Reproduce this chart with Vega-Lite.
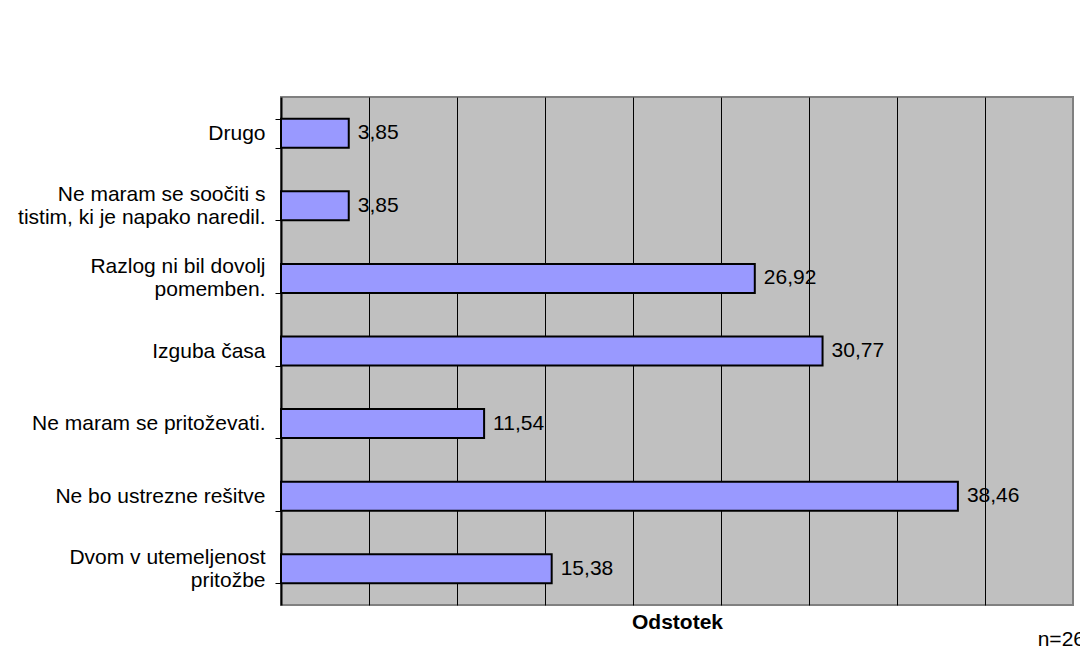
{
  "$schema": "https://vega.github.io/schema/vega-lite/v6.json",
  "width": 792,
  "height": 508,
  "autosize": "none",
  "padding": {"left": 281, "top": 97, "right": 7, "bottom": 57},
  "background": "white",
  "config": {
    "font": "Liberation Sans",
    "locale": {
      "number": {"decimal": ",", "thousands": ".", "grouping": [3], "currency": ["", " €"]}
    },
    "view": {"fill": "#C0C0C0", "stroke": "#808080", "strokeWidth": 2}
  },
  "title": {
    "text": "n=26",
    "orient": "bottom",
    "anchor": "end",
    "font": "Liberation Sans",
    "fontSize": 21,
    "fontWeight": "normal",
    "color": "black",
    "dx": 12,
    "offset": -3
  },
  "data": {
    "values": [
      {"razlog": "Drugo", "odstotek": 3.85},
      {"razlog": "Ne maram se soočiti s\ntistim, ki je napako naredil.", "odstotek": 3.85},
      {"razlog": "Razlog ni bil dovolj\npomemben.", "odstotek": 26.92},
      {"razlog": "Izguba časa", "odstotek": 30.77},
      {"razlog": "Ne maram se pritoževati.", "odstotek": 11.54},
      {"razlog": "Ne bo ustrezne rešitve", "odstotek": 38.46},
      {"razlog": "Dvom v utemeljenost\npritožbe", "odstotek": 15.38}
    ]
  },
  "encoding": {
    "y": {
      "field": "razlog",
      "type": "nominal",
      "sort": null,
      "scale": {"paddingInner": 0.6, "paddingOuter": 0.3},
      "axis": {
        "title": null,
        "grid": false,
        "domainColor": "black",
        "domainWidth": 2,
        "tickColor": "black",
        "tickWidth": 1,
        "tickSize": 6,
        "tickBand": "extent",
        "labelPadding": 10,
        "labelFont": "Liberation Sans",
        "labelFontSize": 21,
        "labelColor": "black",
        "labelLimit": 400,
        "labelLineHeight": 23,
        "labelOffset": {"condition": {"test": "test(/\\n/, datum.value)", "value": -11.5}, "value": 0},
        "labelExpr": "split(datum.label, '\\n')"
      }
    }
  },
  "layer": [
    {
      "mark": {"type": "bar", "fill": "#9999FF", "stroke": "black", "strokeWidth": 2},
      "encoding": {
        "x": {
          "field": "odstotek",
          "type": "quantitative",
          "scale": {"domain": [0, 45], "nice": false, "zero": true},
          "axis": {
            "title": "Odstotek",
            "titleFont": "Liberation Sans",
            "titleFontSize": 21,
            "titleFontWeight": "bold",
            "titleColor": "black",
            "titlePadding": 6,
            "labels": false,
            "ticks": false,
            "domain": false,
            "grid": true,
            "gridColor": "black",
            "gridWidth": 1,
            "values": [5, 10, 15, 20, 25, 30, 35, 40]
          }
        }
      }
    },
    {
      "mark": {"type": "text", "align": "left", "baseline": "middle", "dx": 9, "font": "Liberation Sans", "fontSize": 21, "color": "black"},
      "encoding": {
        "x": {"field": "odstotek", "type": "quantitative"},
        "text": {"field": "odstotek", "type": "quantitative", "format": ".2f"}
      }
    }
  ]
}
